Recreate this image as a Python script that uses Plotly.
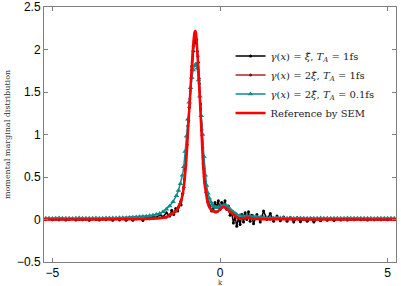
import plotly.graph_objects as go

# --- data ---

# gamma(x) = xi~, T_A = 1fs   (noisy, black)
k_xi = [-5.2, -5.1, -5.0, -4.9, -4.8, -4.7, -4.6, -4.5, -4.4, -4.3, -4.2, -4.1, -4.0,
        -3.9, -3.8, -3.7, -3.6, -3.5, -3.4, -3.3, -3.2, -3.1, -3.0, -2.9, -2.8, -2.7,
        -2.6, -2.5, -2.4, -2.3, -2.2, -2.1, -2.0, -1.9, -1.8, -1.7, -1.6, -1.5, -1.44,
        -1.38, -1.32, -1.26, -1.2, -1.16, -1.12, -1.08, -1.04, -1.0, -0.96, -0.92, -0.88,
        -0.84, -0.8, -0.77, -0.74, -0.71, -0.68, -0.65, -0.62, -0.58, -0.55, -0.52, -0.48,
        -0.44, -0.4, -0.35, -0.3, -0.25, -0.2, -0.15, -0.1, -0.05, 0.0, 0.05, 0.1, 0.15,
        0.2, 0.25, 0.3, 0.35, 0.4, 0.45, 0.5, 0.55, 0.6, 0.65, 0.7, 0.75, 0.8, 0.85, 0.9,
        0.95, 1.0, 1.1, 1.2, 1.3, 1.4, 1.5, 1.6, 1.7, 1.8, 1.9, 2.0, 2.1, 2.2, 2.3, 2.4,
        2.5, 2.6, 2.7, 2.8, 2.9, 3.0, 3.1, 3.2, 3.3, 3.4, 3.5, 3.6, 3.7, 3.8, 3.9, 4.0,
        4.1, 4.2, 4.3, 4.4, 4.5, 4.6, 4.7, 4.8, 4.9, 5.0, 5.1, 5.2]
p_xi = [0.0, 0.005, -0.004, 0.003, -0.002, 0.006, -0.005, 0.002, 0.008, -0.006, 0.004,
        -0.003, 0.007, -0.008, 0.005, 0.0, -0.006, 0.009, -0.004, 0.006, -0.009, 0.01,
        -0.005, 0.012, -0.008, 0.014, -0.01, 0.018, 0.03, -0.012, 0.035, 0.01, 0.045,
        0.02, 0.06, 0.03, 0.08, 0.04, 0.11, 0.06, 0.13, 0.1, 0.18, 0.17, 0.3, 0.38, 0.6,
        0.82, 1.1, 1.32, 1.55, 1.8, 1.98, 2.1, 2.15, 2.08, 1.98, 1.85, 1.6, 1.3, 1.05,
        0.85, 0.6, 0.42, 0.32, 0.2, 0.16, 0.1, 0.13, 0.2, 0.15, 0.22, 0.12, 0.2, 0.17,
        0.22, 0.12, 0.16, 0.05, 0.08, -0.04, 0.03, -0.08, 0.02, -0.06, 0.06, -0.03, 0.08,
        0.0, 0.09, -0.02, 0.05, -0.05, 0.06, -0.03, 0.1, 0.0, 0.07, -0.02, 0.04, -0.015,
        0.03, -0.02, 0.025, -0.03, 0.02, -0.025, 0.015, -0.02, 0.012, -0.03, 0.01, -0.015,
        0.012, -0.01, 0.008, -0.012, 0.006, -0.005, 0.007, -0.006, 0.004, -0.004, 0.005,
        -0.003, 0.004, -0.005, 0.003, -0.002, 0.004, -0.003, 0.002, -0.002, 0.003, 0.0]

# gamma(x) = 2 xi~, T_A = 1fs   (dark red)
k_2xi = [-5.25, -4.5, -4.0, -3.5, -3.0, -2.5, -2.0, -1.8, -1.6, -1.5, -1.4, -1.3, -1.24,
         -1.18, -1.11, -1.06, -1.02, -0.98, -0.94, -0.9, -0.85, -0.8, -0.76, -0.73, -0.7,
         -0.66, -0.62, -0.58, -0.54, -0.5, -0.46, -0.42, -0.37, -0.32, -0.25, -0.2, -0.14,
         -0.08, 0.0, 0.05, 0.1, 0.16, 0.22, 0.3, 0.4, 0.5, 0.6, 0.7, 0.8, 0.9, 1.0, 1.2,
         1.5, 2.0, 2.5, 3.0, 4.0, 5.25]
p_2xi = [0.003, 0.0, 0.004, 0.002, 0.005, 0.008, 0.012, 0.02, 0.03, 0.055, 0.075, 0.11,
         0.15, 0.21, 0.31, 0.47, 0.64, 0.88, 1.16, 1.42, 1.76, 2.04, 2.18, 2.2, 2.12,
         1.92, 1.66, 1.36, 1.06, 0.66, 0.44, 0.32, 0.21, 0.15, 0.11, 0.1, 0.09, 0.095,
         0.125, 0.14, 0.15, 0.14, 0.12, 0.085, 0.055, 0.03, 0.012, 0.02, 0.03, 0.02, 0.01,
         0.006, 0.004, 0.003, 0.001, 0.002, 0.0, 0.001]

# gamma(x) = 2 xi~, T_A = 0.1fs   (teal)
k_fine = [-5.2, -5.1, -5.0, -4.9, -4.8, -4.7, -4.6, -4.5, -4.4, -4.3, -4.2, -4.1, -4.0,
          -3.9, -3.8, -3.7, -3.6, -3.5, -3.4, -3.3, -3.2, -3.1, -3.0, -2.9, -2.8, -2.7,
          -2.6, -2.5, -2.4, -2.3, -2.2, -2.1, -2.0, -1.9, -1.8, -1.7, -1.6, -1.5, -1.4,
          -1.3, -1.24, -1.18, -1.12, -1.08, -1.04, -1.0, -0.96, -0.92, -0.88, -0.84, -0.8,
          -0.76, -0.72, -0.68, -0.64, -0.6, -0.56, -0.52, -0.48, -0.44, -0.4, -0.36, -0.32,
          -0.28, -0.24, -0.2, -0.15, -0.1, -0.05, 0.0, 0.05, 0.1, 0.15, 0.2, 0.25, 0.3,
          0.35, 0.4, 0.45, 0.5, 0.6, 0.7, 0.8, 0.9, 1.0, 1.1, 1.2, 1.3, 1.4, 1.5, 1.6, 1.7,
          1.8, 1.9, 2.0, 2.1, 2.2, 2.3, 2.4, 2.5, 2.6, 2.7, 2.8, 2.9, 3.0, 3.1, 3.2, 3.3,
          3.4, 3.5, 3.6, 3.7, 3.8, 3.9, 4.0, 4.1, 4.2, 4.3, 4.4, 4.5, 4.6, 4.7, 4.8, 4.9,
          5.0, 5.1, 5.2]
p_fine = [0.014, 0.016, 0.013, 0.015, 0.017, 0.014, 0.015, 0.016, 0.013, 0.015, 0.017,
          0.015, 0.014, 0.016, 0.015, 0.017, 0.016, 0.015, 0.018, 0.017, 0.019, 0.018,
          0.02, 0.021, 0.022, 0.024, 0.026, 0.028, 0.031, 0.035, 0.039, 0.044, 0.05,
          0.058, 0.07, 0.09, 0.12, 0.16, 0.21, 0.28, 0.34, 0.42, 0.52, 0.62, 0.8, 0.98,
          1.18, 1.38, 1.55, 1.67, 1.76, 1.81, 1.83, 1.78, 1.64, 1.45, 1.22, 1.0, 0.74,
          0.52, 0.4, 0.31, 0.25, 0.21, 0.18, 0.16, 0.145, 0.14, 0.14, 0.145, 0.155, 0.165,
          0.17, 0.16, 0.14, 0.12, 0.1, 0.085, 0.07, 0.06, 0.048, 0.042, 0.045, 0.04,
          0.035, 0.03, 0.027, 0.024, 0.022, 0.02, 0.019, 0.018, 0.017, 0.018, 0.016,
          0.017, 0.015, 0.016, 0.017, 0.015, 0.016, 0.014, 0.016, 0.015, 0.017, 0.015,
          0.014, 0.016, 0.015, 0.014, 0.016, 0.015, 0.017, 0.015, 0.014, 0.016, 0.015,
          0.014, 0.016, 0.015, 0.013, 0.015, 0.016, 0.014, 0.015, 0.016, 0.014]

# reference by SEM (red)
k_sem = [-5.25, -4.0, -3.0, -2.5, -2.0, -1.8, -1.6, -1.5, -1.4, -1.3, -1.24, -1.18, -1.11,
         -1.06, -1.02, -0.98, -0.94, -0.9, -0.85, -0.8, -0.76, -0.74, -0.72, -0.68, -0.64,
         -0.6, -0.55, -0.5, -0.46, -0.42, -0.37, -0.32, -0.25, -0.2, -0.14, -0.08, 0.0,
         0.05, 0.1, 0.16, 0.22, 0.3, 0.4, 0.5, 0.6, 0.7, 0.8, 0.9, 1.0, 1.2, 1.5, 2.0,
         3.0, 4.0, 5.25]
p_sem = [0.001, 0.001, 0.002, 0.004, 0.01, 0.015, 0.025, 0.05, 0.07, 0.1, 0.145, 0.2,
         0.3, 0.45, 0.62, 0.85, 1.15, 1.4, 1.75, 2.05, 2.2, 2.22, 2.2, 2.0, 1.7, 1.4,
         1.01, 0.62, 0.42, 0.32, 0.2, 0.145, 0.11, 0.1, 0.085, 0.09, 0.12, 0.14, 0.148,
         0.14, 0.12, 0.09, 0.06, 0.03, 0.01, 0.015, 0.025, 0.018, 0.008, 0.004, 0.003,
         0.002, 0.001, 0.001, 0.001]

names = ["<i>γ</i>(<i>x</i>) = <i>ξ̃</i>, <i>T<sub>A</sub></i> = 1fs",
         "<i>γ</i>(<i>x</i>) = 2<i>ξ̃</i>, <i>T<sub>A</sub></i> = 1fs",
         "<i>γ</i>(<i>x</i>) = 2<i>ξ̃</i>, <i>T<sub>A</sub></i> = 0.1fs",
         "Reference by SEM"]

fig = go.Figure()

fig.add_trace(go.Scatter(x=k_xi, y=p_xi, name=names[0], mode="lines+markers",
                         line=dict(color="black", width=1.5),
                         marker=dict(symbol="circle", size=3, color="black")))
fig.add_trace(go.Scatter(x=k_2xi, y=p_2xi, name=names[1], mode="lines+markers",
                         line=dict(color="#a52a2a", width=1.5),
                         marker=dict(symbol="circle", size=3, color="#7a1010")))
fig.add_trace(go.Scatter(x=k_fine, y=p_fine, name=names[2], mode="lines+markers",
                         line=dict(color="#138a8a", width=1.5),
                         marker=dict(symbol="triangle-up", size=5, color="#138a8a")))
fig.add_trace(go.Scatter(x=k_sem, y=p_sem, name=names[3], mode="lines",
                         line=dict(color="#ff0000", width=2.5, shape="spline")))

axis_style = dict(showline=True, mirror="ticks", linecolor="#808080", linewidth=1,
                  ticks="inside", ticklen=4, tickcolor="#808080", showgrid=False,
                  zeroline=False, automargin=False,
                  tickfont=dict(family="Liberation Sans", size=12, color="black"))

fig.update_xaxes(range=[-5.25, 5.25], tickvals=[-5, 0, 5], **axis_style)
fig.update_yaxes(range=[-0.5, 2.5], dtick=0.5, **axis_style,
                 title=dict(text="momental marginal distribution",
                            font=dict(family="DejaVu Serif", size=8, color="#333"),
                            standoff=5))

# x axis label sits tight under the tick labels
fig.add_annotation(text="k", xref="paper", yref="paper", x=0.5, y=0,
                   xanchor="center", yanchor="top", yshift=-15, showarrow=False,
                   font=dict(family="DejaVu Serif", size=7, color="#333"))

fig.update_layout(
    width=401, height=286,
    margin=dict(l=44, r=5, t=7, b=24),
    paper_bgcolor="white", plot_bgcolor="white",
    legend=dict(x=0.53, y=0.865, xanchor="left", yanchor="top",
                bgcolor="rgba(255,255,255,0)", borderwidth=0,
                font=dict(family="DejaVu Serif", size=10, color="#222"),
                tracegroupgap=0),
)

# drop the browser's default 8px body margin so the figure fills the window
fig.write_html("out.html", config={"displayModeBar": False},
               post_script="document.body.style.margin = '0';")
